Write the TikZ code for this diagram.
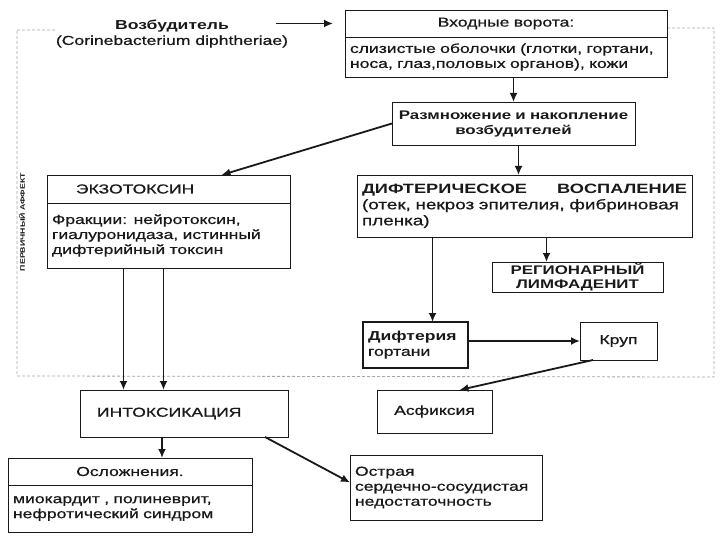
\documentclass[tikz,border=0pt]{standalone}
\usepackage{fontspec}
\setmainfont{Liberation Sans}[FakeStretch=1.35, UprightFeatures={FakeBold=0.8}]
\usepackage{xcolor}
\colorlet{ink}{black!90}
\colorlet{scan}{black!35}
\usepackage{tikz}
\usetikzlibrary{positioning, arrows.meta}
\tikzset{
	node distance = 0pt,
	line width = 1.8pt,
	>={Latex[length=9pt, width=8pt]},
	font = \fontsize{13}{15}\selectfont,
	box/.style={
		draw=ink,
		text=ink,
		rectangle,
		inner xsep=5pt,
		inner ysep=0pt,
		outer sep=0pt
	},
	plain/.style={
		text=ink,
		inner sep=0pt
	},
	edge/.style={
		->,
		draw=ink,
		line width=1.8pt
	},
	frame/.style={
		draw=scan,
		densely dashed,
		line width=.8pt
	}
}

\begin{document}
\begin{tikzpicture}[x=1pt, y=-1pt]
        \useasboundingbox (0,0) rectangle (720,540);
        % dashed frame of the primary affect
        \draw[frame] (17,30) -- (55,30) (667,28) -- (714,28) -- (714,377) -- (17,376) -- (17,30);
        \node[plain, rotate=90, font=\fontsize{6.5}{7}\selectfont\bfseries] (side) at (22,222) {ПЕРВИЧНЫЙ АФФЕКТ};

        \node[plain, align=center] (src) at (172,34) {\textbf{Возбудитель}\\(Corinebacterium diphtheriae)};
        \node[box, minimum width=322pt, minimum height=27pt, text width=312pt, align=center] (gate) at (506,23.5) {Входные ворота:};
        \node[box, minimum width=322pt, minimum height=40pt, text width=312pt, align=left] (gate-body) [below = of gate] {слизистые оболочки (глотки, гортани,\\носа, глаз,половых органов), кожи};
        \node[box, minimum width=243pt, minimum height=43pt, text width=233pt, align=center, font=\fontsize{12.5}{15}\selectfont\bfseries] (mult) at (513.5,123.5) {Размножение и накопление\\возбудителей};
        \node[box, minimum width=243pt, minimum height=28pt, text width=233pt, align=left] (exo) at (168.5,189) {\hspace*{24pt}ЭКЗОТОКСИН};
        \node[box, minimum width=243pt, minimum height=65pt, text width=233pt, align=left] (exo-body) [below = of exo] {Фракции: нейротоксин,\\гиалуронидаза, истинный\\ дифтерийный токсин};
        \node[box, minimum width=335pt, minimum height=62pt, text width=325pt, align=left, font=\fontsize{14}{16}\selectfont] (infl) at (524.5,206) {{\fontsize{13.5}{16}\selectfont\bfseries ДИФТЕРИЧЕСКОЕ\hfill ВОСПАЛЕНИЕ}\\(отек, некроз эпителия, фибриновая\\пленка)};
        \node[box, minimum width=171pt, minimum height=30pt, text width=161pt, align=center, font=\fontsize{12.5}{14}\selectfont\bfseries] (lymph) at (577.5,277) {РЕГИОНАРНЫЙ\\ЛИМФАДЕНИТ};
        \node[box, line width=2.4pt, minimum width=105pt, minimum height=46pt, text width=95pt, align=left] (larynx) at (415.5,345) {\textbf{Дифтерия}\\гортани};
        \node[box, minimum width=77pt, minimum height=38pt, text width=67pt, align=center] (croup) at (618.5,341) {Круп};
        \node[box, minimum width=115pt, minimum height=43pt, text width=105pt, align=center] (asph) at (434.5,411.5) {Асфиксия};
        \node[box, minimum width=208pt, minimum height=47pt, text width=198pt, align=left] (intox) at (184,413.5) {\hspace*{12pt}ИНТОКСИКАЦИЯ};
        \node[box, minimum width=244pt, minimum height=27pt, text width=234pt, align=center] (compl) at (130,471.5) {Осложнения.};
        \node[box, minimum width=244pt, minimum height=47pt, text width=234pt, align=left] (compl-body) [below = of compl] {миокардит , полиневрит,\\нефротический синдром};
        \node[box, minimum width=192pt, minimum height=65pt, text width=182pt, align=left] (heart) at (446,487.5) {Острая\\сердечно-сосудистая\\недостаточность};

        \draw[edge] ([xshift=-12pt]src.east |- gate.west) -- ([xshift=-12pt]gate.west);
        \draw[edge] (gate-body.south -| mult.north) -- (mult.north);
        \draw[edge] (mult.west) -- ([xshift=53pt]exo.north);
        \draw[edge] ([xshift=5pt]mult.south) -- ([xshift=5pt]mult.south |- infl.north);
        \draw[edge] ([xshift=-31pt]lymph.north |- infl.south) -- ([xshift=-31pt]lymph.north);
        \draw[edge] ([xshift=17pt]larynx.north |- infl.south) -- ([xshift=17pt]larynx.north);
        \draw[edge] (larynx.east |- croup.west) -- (croup.west);
        \draw[edge] ([xshift=13pt]croup.south west) -- ([xshift=25pt]asph.north);
        \draw[edge] ([xshift=-45pt]exo-body.south) -- ([xshift=-45pt]exo-body.south |- intox.north);
        \draw[edge] ([xshift=-5pt]exo-body.south) -- ([xshift=-5pt]exo-body.south |- intox.north);
        \draw[edge] ([xshift=-22pt]intox.south) -- ([xshift=-22pt]intox.south |- compl.north);
        \draw[edge] ([xshift=-23pt]intox.south east) -- ([yshift=5pt]heart.west);
\end{tikzpicture}
\end{document}
